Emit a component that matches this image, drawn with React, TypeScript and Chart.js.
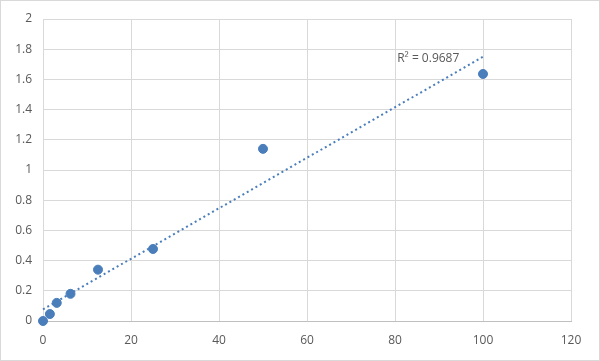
import React, { useEffect, useRef } from "react";
import { Chart, registerables } from "chart.js";

Chart.register(...registerables);

const xValues = [0, 1.5625, 3.125, 6.25, 12.5, 25, 50, 100];
const yValues = [0, 0.046, 0.12, 0.18, 0.34, 0.477, 1.14, 1.636];
const xTicks = [0, 20, 40, 60, 80, 100, 120];
const yTicks = [0, 0.2, 0.4, 0.6, 0.8, 1, 1.2, 1.4, 1.6, 1.8, 2];
const r2Label = "R² = 0.9687";

function regression(xs: number[], ys: number[]) {
  const n = xs.length;
  const mx = xs.reduce((a, b) => a + b, 0) / n;
  const my = ys.reduce((a, b) => a + b, 0) / n;
  let sxy = 0, sxx = 0;
  for (let i = 0; i < n; i++) {
    sxy += (xs[i] - mx) * (ys[i] - my);
    sxx += (xs[i] - mx) ** 2;
  }
  const slope = sxy / sxx;
  return { slope, intercept: my - slope * mx };
}

export default function App() {
  const ref = useRef<HTMLCanvasElement | null>(null);
  useEffect(() => {
    document.body.style.margin = "0";
    const { slope, intercept } = regression(xValues, yValues);
    const xmin = Math.min(...xValues);
    const xmax = Math.max(...xValues);
    const trend = [
      { x: xmin, y: intercept + slope * xmin },
      { x: xmax, y: intercept + slope * xmax },
    ];
    const font = { family: "'Open Sans', 'Liberation Sans', sans-serif", size: 12 };
    const extras = {
      id: "extras",
      beforeDraw(chart: any) {
        const c = chart.ctx;
        c.save();
        c.fillStyle = "#ffffff";
        c.fillRect(0, 0, chart.width, chart.height);
        c.restore();
      },
      afterDraw(chart: any) {
        const c = chart.ctx;
        c.save();
        c.strokeStyle = "#d9d9d9";
        c.lineWidth = 1;
        c.strokeRect(0.5, 0.5, chart.width - 1, chart.height - 1);
        const xs = chart.scales.x;
        const ys = chart.scales.y;
        c.fillStyle = "#595959";
        c.font = "12px 'Open Sans', 'Liberation Sans', sans-serif";
        c.textAlign = "left";
        c.textBaseline = "middle";
        c.fillText(r2Label, xs.getPixelForValue(80.5), ys.getPixelForValue(1.74));
        c.restore();
      },
    };
    const chart = new Chart(ref.current!, {
      type: "scatter",
      data: {
        datasets: [
          {
            type: "line",
            data: trend,
            borderColor: "#4a7ebb",
            borderWidth: 2,
            borderDash: [2, 3],
            pointRadius: 0,
            fill: false,
            clip: false,
            order: 2,
          } as any,
          {
            data: xValues.map((x, i) => ({ x, y: yValues[i] })),
            backgroundColor: "#4a7ebb",
            borderColor: "#4a7ebb",
            pointRadius: 4.5,
            clip: false,
            order: 1,
          } as any,
        ],
      },
      options: {
        animation: false,
        responsive: false,
        maintainAspectRatio: false,
        layout: { padding: { left: 0, top: 19, right: 29, bottom: 0 } },
        plugins: { legend: { display: false }, tooltip: { enabled: false } },
        scales: {
          x: {
            type: "linear",
            min: 0,
            max: 120,
            afterBuildTicks: (s: any) => { s.ticks = xTicks.map((v) => ({ value: v })); },
            afterFit: (s: any) => { s.height = 40; },
            grid: { color: "#d9d9d9", drawTicks: false },
            border: { color: "#bfbfbf" },
            ticks: { color: "#595959", font, padding: 12, callback: (v: any) => String(v) },
          },
          y: {
            type: "linear",
            min: 0,
            max: 2,
            afterBuildTicks: (s: any) => { s.ticks = yTicks.map((v) => ({ value: v })); },
            afterFit: (s: any) => { s.width = 43; },
            grid: { color: "#d9d9d9", drawTicks: false },
            border: { display: false },
            ticks: { color: "#595959", font, padding: 11, callback: (v: any) => String(Math.round(v * 10) / 10) },
          },
        },
      },
      plugins: [extras],
    });
    return () => chart.destroy();
  }, []);
  return (
    <div style={{ width: 600, height: 361 }}>
      <canvas ref={ref} width={600} height={361} style={{ display: "block" }} />
    </div>
  );
}
